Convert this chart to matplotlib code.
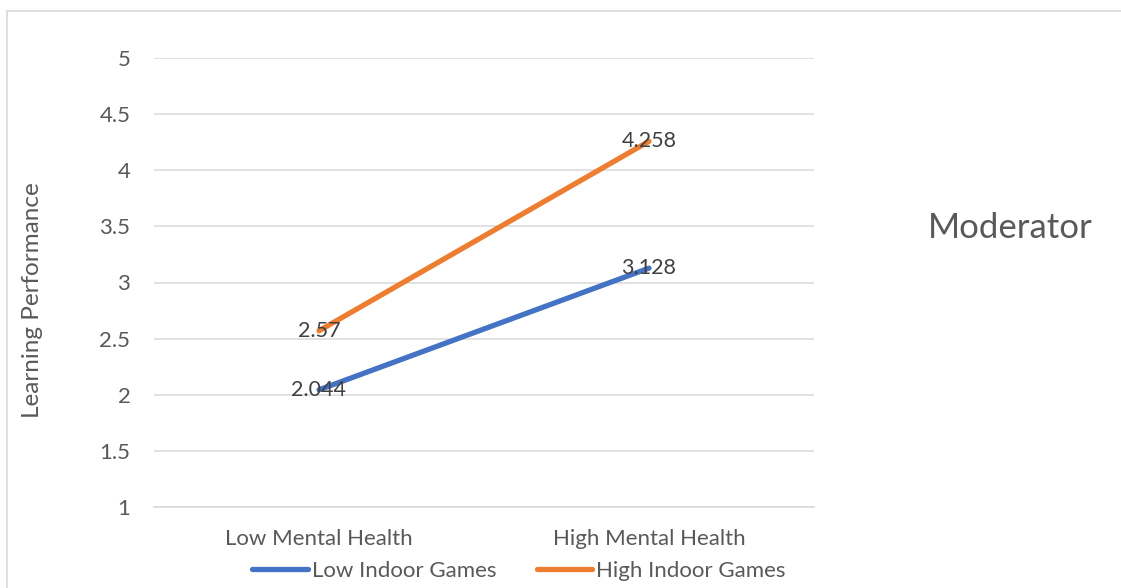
import matplotlib
matplotlib.use("Agg")
import matplotlib.pyplot as plt
from matplotlib.patches import Rectangle
from matplotlib.lines import Line2D

categories = ["Low Mental Health", "High Mental Health"]
series_names = ["Low Indoor Games", "High Indoor Games"]
low_games = [2.044, 3.128]
high_games = [2.57, 4.258]
label_text_low = ["2.044", "3.128"]
label_text_high = ["2.57", "4.258"]
yticks = [1, 1.5, 2, 2.5, 3, 3.5, 4, 4.5, 5]
colors = ["#4472C4", "#ED7D31"]

plt.rcParams['font.family'] = ['Lato', 'DejaVu Sans']

W, H = 1121, 588
fig = plt.figure(figsize=(W / 100, H / 100), dpi=100)
fig.patch.set_facecolor("white")

# outer chart border
fig.add_artist(Rectangle((7 / W, -0.05), 1.2, (H - 11) / H + 0.05, transform=fig.transFigure,
                         fill=False, edgecolor="#D9D9D9", linewidth=1.2))

ax = fig.add_axes([154 / W, 1 - 507 / H, (814 - 154) / W, (507 - 58) / H])
x = list(range(len(categories)))
for vals, labs, c, name in [(low_games, label_text_low, colors[0], series_names[0]),
                            (high_games, label_text_high, colors[1], series_names[1])]:
    ax.plot(x, vals, color=c, linewidth=3.8, solid_capstyle="round", label=name, zorder=3)
    for xi, v, t in zip(x, vals, labs):
        ax.text(xi, v, t, ha="center", va="center", fontsize=15.5, color="#404040", zorder=4)

ax.set_xlim(-0.5, 1.5)
ax.set_ylim(1, 5)
ax.set_yticks(yticks)
ax.set_yticklabels([f"{v:g}" for v in yticks])
ax.set_xticks(x)
ax.set_xticklabels(categories)
ax.grid(axis="y", color="#D9D9D9", linewidth=1.1)
ax.set_axisbelow(True)
for s in ["top", "right", "left"]:
    ax.spines[s].set_visible(False)
ax.spines["bottom"].set_color("#D9D9D9")
ax.spines["bottom"].set_linewidth(1.1)
ax.tick_params(axis="both", length=0, labelsize=16, colors="#595959")
ax.tick_params(axis="y", pad=17)
ax.tick_params(axis="x", pad=16)

fig.text(33 / W, 1 - 300 / H, "Learning Performance", rotation=90, ha="center", va="center",
         fontsize=17.5, color="#595959")
fig.text(1010 / W, 1 - 228 / H, "Moderator", ha="center", va="center", fontsize=25, color="#595959")

handles = [Line2D([0], [0], color=c, linewidth=3.8, solid_capstyle="round") for c in colors]
fig.legend(handles, series_names, loc="center", bbox_to_anchor=(519 / W, 1 - 571 / H), ncol=2,
           frameon=False, fontsize=16, labelcolor="#595959", handlelength=2.5,
           handletextpad=0.18, columnspacing=1.8, borderpad=0, borderaxespad=0)

fig.savefig("out.png", dpi=100, facecolor="white")
